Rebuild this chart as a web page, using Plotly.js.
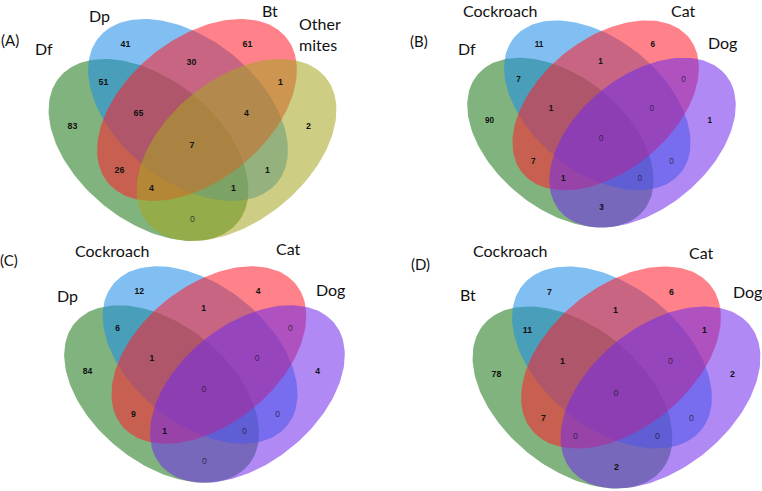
<!DOCTYPE html>
<html>
<head>
<meta charset="utf-8">
<script src="https://cdn.plot.ly/plotly-3.0.1.min.js"></script>
<style>html,body{margin:0;padding:0;background:#fff;}#chart{width:762px;height:491px;}</style>
</head>
<body>
<div id="chart"></div>
<script>
// ---------- data ----------
const panelTags = ['(A)', '(B)', '(C)', '(D)'];
const setsA = ['Df', 'Dp', 'Bt', 'Other<br>mites'];
const setsB = ['Df', 'Cockroach', 'Cat', 'Dog'];
const setsC = ['Dp', 'Cockroach', 'Cat', 'Dog'];
const setsD = ['Bt', 'Cockroach', 'Cat', 'Dog'];
// region membership keys (set1 set2 set3 set4)
const regionKeys = ['1000','0100','0010','0001','1100','0110','0011','1110','0111','1111','1010','0101','1011','1101','1001'];
const countsA = [83, 41, 61, 2, 51, 30, 1, 65, 4, 7, 26, 1, 4, 1, 0];
const countsB = [90, 11, 6, 1, 7, 1, 0, 1, 0, 0, 7, 0, 1, 0, 3];
const countsC = [84, 12, 4, 4, 6, 1, 0, 1, 0, 0, 9, 0, 1, 0, 0];
const countsD = [78, 7, 6, 2, 11, 1, 1, 1, 0, 0, 7, 0, 0, 0, 2];

// ---------- layout / geometry (styling) ----------
const W = 762, H = 491;
const panels = [
  {tag: panelTags[0], sets: setsA, counts: countsA, cx: 192.5, cy: 130, s: 1.0,
   tagPos: [10, 40], labelPos: [[44, 48], [99, 15], [270, 10], [320, 34]], fourthColor: 'rgba(165,165,35,0.56)'},
  {tag: panelTags[1], sets: setsB, counts: countsB, cx: 601.5, cy: 124, s: 0.933,
   tagPos: [419, 41], labelPos: [[467, 48], [500, 10], [683, 10], [722, 42]], fourthColor: 'rgba(115,45,235,0.56)'},
  {tag: panelTags[2], sets: setsC, counts: countsC, cx: 204.5, cy: 374.5, s: 0.975,
   tagPos: [9, 260], labelPos: [[67, 295], [112, 250], [288, 248], [330, 289]], fourthColor: 'rgba(115,45,235,0.56)'},
  {tag: panelTags[3], sets: setsD, counts: countsD, cx: 616.5, cy: 377.5, s: 1.0,
   tagPos: [420, 264], labelPos: [[468, 294], [510, 250], [701, 252], [747, 291]], fourthColor: 'rgba(115,45,235,0.56)'}
];
// ellipse template (local px units): center, semi-axes, rotation (deg)
const ellA = 115, ellB = 71;
const ellipses = [
  {ex: -44, ey: 20, rot: 39, color: 'rgba(30,120,25,0.56)'},
  {ex: -4.5, ey: -20, rot: 39, color: 'rgba(30,140,232,0.56)'},
  {ex: 4.5, ey: -20, rot: -39, color: 'rgba(255,30,45,0.56)'},
  {ex: 44, ey: 20, rot: -39, color: null}
];
// region label anchor template (local px units)
const regionPos = {
  '1000': [-120, -3], '0100': [-67, -85], '0010': [55, -85], '0001': [116, -3],
  '1100': [-89, -47], '0110': [-1, -67], '0011': [88, -47],
  '1110': [-54, -16], '0111': [54, -16], '1111': [-0.5, 16],
  '1010': [-73, 41], '0101': [75, 41], '1011': [-41, 59], '1101': [41, 59], '1001': [0, 90]
};

const traces = [];
const annotations = [];
panels.forEach(p => {
  ellipses.forEach((e, i) => {
    const th = e.rot * Math.PI / 180;
    const xs = [], ys = [];
    for (let k = 0; k <= 180; k++) {
      const t = k / 180 * 2 * Math.PI;
      const lx = ellA * Math.cos(t), ly = ellB * Math.sin(t);
      xs.push(p.cx + p.s * (e.ex + lx * Math.cos(th) - ly * Math.sin(th)));
      ys.push(p.cy + p.s * (e.ey + lx * Math.sin(th) + ly * Math.cos(th)));
    }
    traces.push({type: 'scatter', mode: 'lines', x: xs, y: ys, fill: 'toself',
      fillcolor: e.color || p.fourthColor, line: {width: 0, color: 'rgba(0,0,0,0)'},
      hoverinfo: 'skip', showlegend: false});
  });
  traces.push({
    type: 'scatter', mode: 'text', showlegend: false, hoverinfo: 'skip',
    x: regionKeys.map(k => p.cx + p.s * regionPos[k][0]),
    y: regionKeys.map(k => p.cy + p.s * regionPos[k][1]),
    text: p.counts.map(v => v === 0 ? String(v) : '<b>' + v + '</b>'),
    textposition: 'middle center',
    textfont: {family: 'Liberation Sans, Arial, sans-serif', size: 8.8 * p.s,
      color: p.counts.map(v => v === 0 ? 'rgba(25,20,45,0.78)' : '#111')}
  });
  annotations.push({x: p.tagPos[0], y: p.tagPos[1], xref: 'x', yref: 'y', text: p.tag,
    showarrow: false, xanchor: 'center', yanchor: 'middle',
    font: {family: 'Lato, Open Sans, sans-serif', size: 15, color: '#111'}});
  p.sets.forEach((name, i) => {
    annotations.push({x: p.labelPos[i][0], y: p.labelPos[i][1], xref: 'x', yref: 'y', text: name,
      showarrow: false, xanchor: 'center', yanchor: 'middle', align: 'left',
      font: {family: 'Lato, Open Sans, sans-serif', size: 16, color: '#111'}});
  });
});

const layout = {
  width: W, height: H, margin: {l: 0, r: 0, t: 0, b: 0},
  paper_bgcolor: '#fff', plot_bgcolor: '#fff',
  xaxis: {range: [0, W], visible: false, fixedrange: true},
  yaxis: {range: [H, 0], visible: false, fixedrange: true},
  annotations: annotations, showlegend: false
};
Plotly.newPlot('chart', traces, layout, {staticPlot: true, displayModeBar: false});
</script>
</body>
</html>
